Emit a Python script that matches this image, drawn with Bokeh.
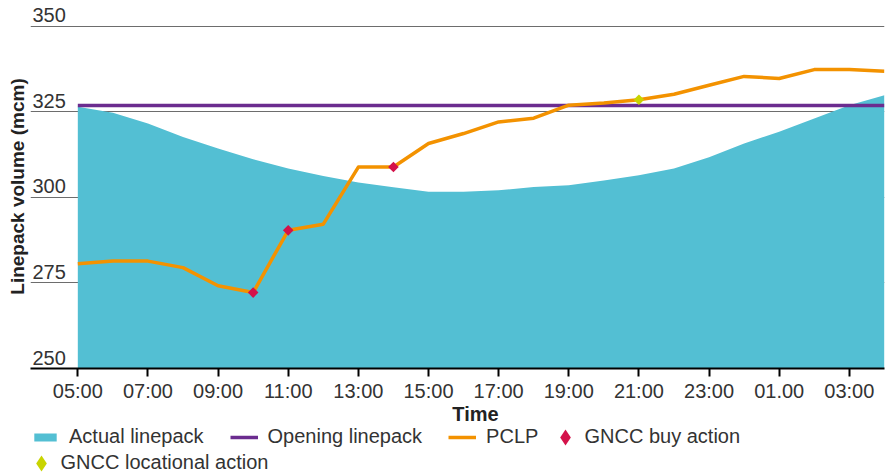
import math
from bokeh.plotting import figure
from bokeh.layouts import column
from bokeh.models import (Range1d, FixedTicker, LabelSet, Label, Legend, LegendItem, Title,
                          ColumnDataSource)
from bokeh.core.properties import value
from bokeh.embed import file_html
from bokeh.resources import INLINE

# ---------------- data ----------------
hours = [5, 6, 7, 8, 9, 10, 11, 12, 13, 14, 15, 16, 17, 18, 19, 20, 21, 22, 23, 24, 25, 26, 27, 28]
actual_linepack = [326.5, 324.8, 321.6, 317.7, 314.3, 311.2, 308.5, 306.3, 304.4, 303.0, 301.7, 301.7,
                   302.1, 303.1, 303.6, 305.0, 306.5, 308.5, 311.8, 315.8, 319.2, 323.1, 327.0, 329.9]
opening_linepack = 326.9
pclp = [280.6, 281.4, 281.4, 279.5, 274.2, 272.2, 290.4, 292.2, 308.9, 308.9, 315.8, 318.7,
        322.1, 323.2, 327.0, 327.6, 328.6, 330.2, 332.8, 335.4, 334.8, 337.4, 337.4, 336.9]
buy_hours = [10, 11, 14]
buy_values = [272.2, 290.4, 308.9]
loc_hours = [21]
loc_values = [328.6]

x_ticks = [5, 7, 9, 11, 13, 15, 17, 19, 21, 23, 25, 27]
x_tick_labels = ["05:00", "07:00", "09:00", "11:00", "13:00", "15:00", "17:00", "19:00",
                 "21:00", "23:00", "01.00", "03:00"]
y_ticks = [250, 275, 300, 325, 350]
y_tick_labels = ["250", "275", "300", "325", "350"]

x_title = "Time"
y_title = "Linepack volume (mcm)"

# ---------------- style ----------------
FONT = "Liberation Sans"
TEXT = "#333333"
AREA = "#53BFD3"
PURPLE = "#6B2C8F"
ORANGE = "#F39200"
RED = "#D4124A"
YELLOW = "#C8D400"
W = 887
MAIN_H = 403
LEG_H = 473 - MAIN_H

p = figure(frame_width=854, frame_height=364,
           x_range=Range1d(3.651, 28.003), y_range=Range1d(250, 356.43),
           output_backend="svg", toolbar_location=None,
           min_border_left=30, min_border_right=3, min_border_top=4,
           min_border_bottom=MAIN_H - 4 - 364)
p.outline_line_color = None

area_r = p.varea(x=hours, y1=y_ticks[0], y2=actual_linepack, fill_color=AREA)
open_r = p.line(hours, [opening_linepack] * len(hours), line_color=PURPLE, line_width=3.5)
pclp_r = p.line(hours, pclp, line_color=ORANGE, line_width=3.5, line_join="round")
buy_r = p.scatter(buy_hours, buy_values, marker="square", angle=math.pi / 4, size=7.5,
                  fill_color=RED, line_color=None)
loc_r = p.scatter(loc_hours, loc_values, marker="square", angle=math.pi / 4, size=7.5,
                  fill_color=YELLOW, line_color=None)

# grid / axes
p.xgrid.visible = False
p.ygrid.ticker = FixedTicker(ticks=y_ticks)
p.ygrid.grid_line_color = "#6d6d6d"
p.ygrid.grid_line_width = 1
p.yaxis.visible = False

xa = p.xaxis[0]
xa.ticker = FixedTicker(ticks=x_ticks)
xa.major_label_overrides = dict(zip(x_ticks, x_tick_labels))
xa.minor_tick_line_color = None
xa.axis_line_color = "black"
xa.axis_line_width = 2
xa.major_tick_line_color = "black"
xa.major_tick_line_width = 2
xa.major_tick_out = 8
xa.major_tick_in = 0
xa.major_label_standoff = 3
xa.major_label_text_font = FONT
xa.major_label_text_font_size = "20px"
xa.major_label_text_color = TEXT

# y tick labels sit above their gridlines
ysrc = ColumnDataSource(dict(y=y_ticks, text=y_tick_labels))
p.add_layout(LabelSet(x=2, y="y", text="text", x_units="screen", y_units="data", source=ysrc,
                      text_font=value(FONT), text_font_size="20px", text_color=TEXT,
                      text_baseline="alphabetic", text_align="left", y_offset=4))

p.add_layout(Title(text=y_title, align="center", standoff=5, text_font=FONT,
                   text_font_size="19px", text_font_style="bold", text_color="#222222"), "left")

# ---------------- x title + legend strip (frame aligned with the chart frame) ----------------
lg = figure(width=W, height=LEG_H, x_range=Range1d(0, 1), y_range=Range1d(0, 1),
            x_axis_type=None, y_axis_type=None, output_backend="svg", toolbar_location=None,
            min_border=0)
lg.outline_line_color = None
lg.xgrid.visible = False
lg.ygrid.visible = False

# legend swatches: the same series, which fall outside this strip's (0..1) ranges
sw_area = lg.varea(x=hours, y1=y_ticks[0], y2=actual_linepack, fill_color=AREA)
sw_open = lg.line(hours, [opening_linepack] * len(hours), line_color=PURPLE, line_width=3.5)
sw_pclp = lg.line(hours, pclp, line_color=ORANGE, line_width=3.5)
sw_buy = lg.scatter(buy_hours, buy_values, marker="diamond", fill_color=RED, line_color=None)
sw_loc = lg.scatter(loc_hours, loc_values, marker="diamond", fill_color=YELLOW, line_color=None)

FL = 30  # page x of the (aligned) frame's left edge
lg.add_layout(Label(x=475 - FL, y=473 - 412, x_units="screen", y_units="screen", text=x_title,
                    text_align="center", text_baseline="alphabetic", text_font=FONT,
                    text_font_size="20px", text_font_style="bold", text_color="#222222"))

common = dict(orientation="horizontal", padding=0, margin=0, background_fill_alpha=0,
              border_line_color=None, label_text_font=FONT, label_text_font_size="20px",
              label_text_color=TEXT, label_height=10)

row1_c = 473 - 435.5
row2_c = 473 - 461.5
leg_a = Legend(items=[LegendItem(label="Actual linepack", renderers=[sw_area]),
                      LegendItem(label="Opening linepack", renderers=[sw_open]),
                      LegendItem(label="PCLP", renderers=[sw_pclp])],
               location=(31 - FL, row1_c - 11.5), glyph_width=28, glyph_height=10,
               label_standoff=10, spacing=26, **common)
leg_b = Legend(items=[LegendItem(label="GNCC buy action", renderers=[sw_buy])],
               location=(544.5 - FL, row1_c - 20), glyph_width=40, glyph_height=40,
               label_standoff=-9, **common)
leg_c = Legend(items=[LegendItem(label="GNCC locational action", renderers=[sw_loc])],
               location=(20.5 - FL, row2_c - 20), glyph_width=40, glyph_height=40,
               label_standoff=-9, **common)
for l in (leg_a, leg_b, leg_c):
    lg.add_layout(l)

layout = column(p, lg, spacing=0)
open("out.html", "w").write(file_html(layout, INLINE))
